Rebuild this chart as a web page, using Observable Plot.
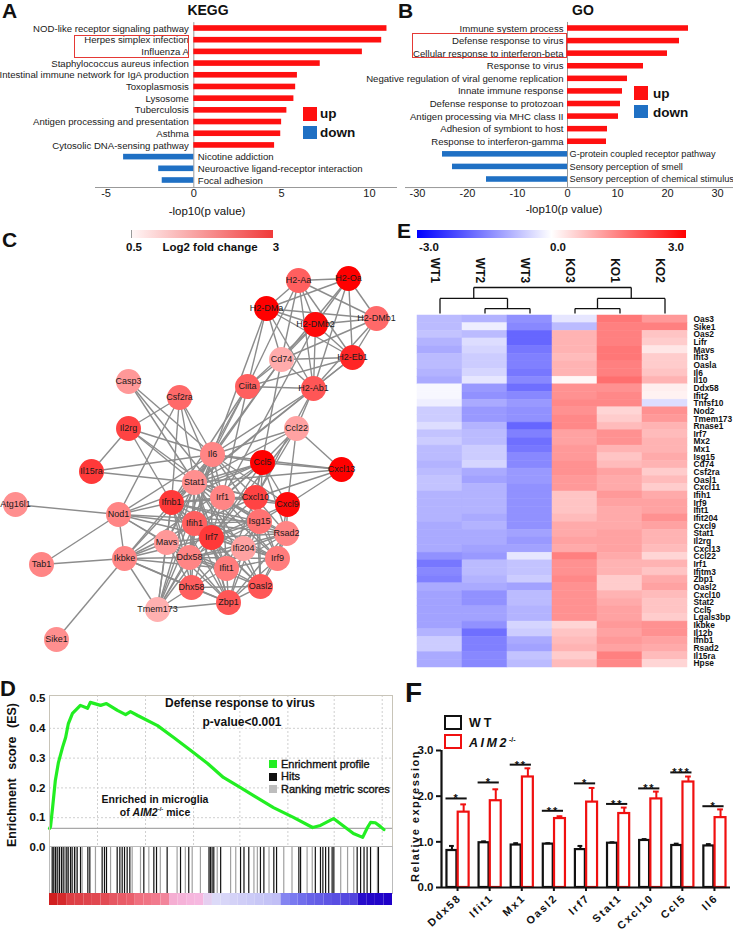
<!DOCTYPE html>
<html><head><meta charset="utf-8">
<script src="https://cdn.jsdelivr.net/npm/d3@7"></script>
<script src="https://cdn.jsdelivr.net/npm/@observablehq/plot@0.6"></script>
<style>
body{margin:0;background:#fff;}
#fig{position:relative;width:733px;height:932px;overflow:hidden;background:#fff;font-family:"Liberation Sans",Arial,sans-serif;color:#111;}
#fig svg{position:absolute;left:0;top:0;}
.t{position:absolute;line-height:1;white-space:nowrap;}
.bx{position:absolute;box-sizing:border-box;}
.panelF g[aria-label="text"] text{letter-spacing:1.8px;}
</style></head><body><div id="fig"></div>
<script>
// ---------------- DATA ----------------
const keggTerms = ["NOD-like receptor signaling pathway","Herpes simplex infection","Influenza A","Staphylococcus aureus infection","Intestinal immune network for IgA production","Toxoplasmosis","Lysosome","Tuberculosis","Antigen processing and presentation","Asthma","Cytosolic DNA-sensing pathway","Nicotine addiction","Neuroactive ligand-receptor interaction","Focal adhesion"];
const keggValues = [11.0,10.7,9.6,7.2,5.9,5.8,5.7,5.3,5.0,4.95,4.6,-4.0,-2.0,-1.8];

const goTerms = ["Immune system process","Defense response to virus","Cellular response to interferon-beta","Response to virus","Negative regulation of viral genome replication","Innate immune response","Defense response to protozoan","Antigen processing via MHC class II","Adhesion of symbiont to host","Response to interferon-gamma","G-protein coupled receptor pathway","Sensory perception of smell","Sensory perception of chemical stimulus"];
const goValues = [24.2,22.4,20.0,15.2,12.0,11.0,10.6,10.2,8.0,7.8,-25.0,-23.0,-16.2];

// network: node names, layout coordinates, log2 fold change
const netNames = ["H2-Aa","H2-Oa","H2-DMa","H2-DMb2","H2-DMb1","Cd74","H2-Eb1","Ciita","H2-Ab1","Casp3","Csf2ra","Ccl22","Il2rg","Il15ra","Il6","Ccl5","Cxcl13","Stat1","Irf1","Cxcl10","Cxcl9","Ifnb1","Atg16l1","Nod1","Ifih1","Isg15","Irf7","Rsad2","Mavs","Ifi204","Ddx58","Irf9","Ikbke","Tab1","Ifit1","Dhx58","Oasl2","Zbp1","Tmem173","Sike1"];
const netLayoutX = [298,348,266,315,376,281,352,247,313,128,179,296,128,91,212,262,341,194,222,255,287,171,15,118,194,259,211,286,166,243,189,277,124,41,226,191,260,228,157,56];
const netLayoutY = [280,278,308,324,318,359,357,386,388,381,397,428,428,471,454,462,469,482,497,497,504,502,504,514,523,521,537,533,542,548,557,558,558,564,568,587,586,602,609,639];
const netFC = [2.0,3.0,3.0,2.9,1.9,1.2,2.6,2.0,2.1,1.4,1.9,1.3,2.3,2.4,1.6,3.0,3.0,1.5,1.6,2.3,2.9,2.4,1.5,1.6,2.0,1.8,2.4,1.6,1.4,1.3,1.6,1.7,1.6,1.6,1.7,2.0,2.1,2.1,1.15,1.5];
const netLinks = [
"H2-Aa: H2-Oa H2-DMa H2-DMb2 H2-Eb1 H2-Ab1 Cd74 Ciita H2-DMb1",
"H2-Oa: H2-DMa H2-DMb2 H2-DMb1 H2-Eb1 H2-Ab1 Cd74",
"H2-DMa: H2-DMb2 H2-DMb1 Cd74 Ciita H2-Ab1 H2-Eb1 Il6",
"H2-DMb2: H2-DMb1 Cd74 H2-Eb1 H2-Ab1 Ciita Irf1",
"H2-DMb1: H2-Eb1 Cd74 H2-Ab1",
"Cd74: H2-Eb1 H2-Ab1 Ciita Il6 Stat1 Cxcl10",
"H2-Eb1: H2-Ab1 Ciita Stat1",
"Ciita: H2-Ab1 Il6 Stat1 Irf1 Ifnb1",
"H2-Ab1: Il6 Ifnb1 Cxcl10 Ccl22",
"Ccl22: Il6 Ccl5 Cxcl13 Cxcl10 Cxcl9 Stat1 Irf7",
"Casp3: Il6 Irf1 Stat1",
"Csf2ra: Il6 Stat1 Il2rg Ifnb1 Irf1 Nod1",
"Il2rg: Il15ra Il6 Stat1 Irf1 Ifnb1",
"Il15ra: Il6 Stat1",
"Atg16l1: Nod1",
"Nod1: Ifnb1 Ikbke Tab1 Ifih1 Mavs Irf7 Ddx58 Il6 Ccl5 Isg15",
"Tab1: Ikbke",
"Sike1: Ikbke",
"Ikbke: Ifnb1 Mavs Ddx58 Irf7 Tmem173 Ifih1 Dhx58 Zbp1 Stat1 Ifit1 Ccl5",
"Tmem173: Ifnb1 Irf7 Zbp1 Mavs Ddx58 Stat1 Irf1 Dhx58 Il6 Ifih1",
"Cxcl13: Ccl5 Cxcl10 Cxcl9 Il6 Stat1",
"Il6: Ccl5 Stat1 Irf1 Cxcl10 Cxcl9 Ifnb1 Ifih1 Irf7 Isg15 Mavs Ddx58",
"Ccl5: Stat1 Irf1 Cxcl10 Cxcl9 Ifnb1 Irf7 Isg15 Rsad2 Ifih1",
"Stat1: Irf1 Cxcl10 Cxcl9 Ifnb1 Ifih1 Isg15 Irf7 Rsad2 Irf9 Ifit1 Mavs Ddx58 Oasl2 Zbp1 Ifi204",
"Irf1: Cxcl10 Cxcl9 Ifnb1 Irf7 Isg15 Irf9 Ifit1",
"Cxcl10: Cxcl9 Ifnb1 Irf7 Isg15 Rsad2 Ifit1 Ifih1 Irf9 Oasl2",
"Cxcl9: Irf7 Isg15 Rsad2 Irf9",
"Ifnb1: Ifih1 Irf7 Isg15 Mavs Ddx58 Ifit1 Irf9 Dhx58 Zbp1 Rsad2",
"Ifih1: Irf7 Isg15 Mavs Ddx58 Ifit1 Dhx58 Zbp1 Oasl2 Ifi204 Rsad2 Irf9",
"Isg15: Irf7 Rsad2 Ifit1 Irf9 Oasl2 Ddx58 Ifi204 Zbp1 Dhx58",
"Irf7: Rsad2 Mavs Ddx58 Irf9 Ifit1 Dhx58 Oasl2 Zbp1 Ifi204",
"Rsad2: Ifit1 Irf9 Oasl2 Ddx58 Ifi204 Zbp1",
"Mavs: Ddx58 Dhx58 Ifit1 Zbp1",
"Ifi204: Ddx58 Irf9 Ifit1 Oasl2 Zbp1",
"Ddx58: Ifit1 Dhx58 Oasl2 Zbp1 Irf9",
"Irf9: Ifit1 Oasl2 Zbp1",
"Ifit1: Dhx58 Oasl2 Zbp1",
"Dhx58: Zbp1 Oasl2",
"Oasl2: Zbp1"];

// heatmap
const heatGenes = ["Oas3","Sike1","Oas2","Lifr","Mavs","Ifit3","Oasla","Il6","Il10","Ddx58","Ifit2","Tnfsf10","Nod2","Tmem173","Rnase1","Irf7","Mx2","Mx1","Isg15","Cd74","Csf2ra","Oasl1","Cxcl11","Ifih1","Irf9","Ifit1","Ifit204","Cxcl9","Stat1","Il2rg","Cxcl13","Ccl22","Irf1","Ifitm3","Zbp1","Oasl2","Cxcl10","Stat2","Ccl5","Lgals3bp","Ikbke","Il12b","Ifnb1","Rsad2","Il15ra","Hpse"];
const heatSamples = ["WT1","WT2","WT3","KO3","KO1","KO2"];
const heatWT1 = [-0.8,-0.8,-0.7,-0.9,-1.0,-0.8,-0.8,-0.9,-1.0,-0.1,-0.1,-0.2,-0.6,-0.6,-0.4,-0.7,-0.6,-0.8,-0.8,-0.9,-0.8,-0.7,-0.7,-0.9,-0.9,-0.9,-0.9,-1.0,-1.0,-1.0,-1.0,-1.3,-1.6,-1.4,-1.5,-1.0,-1.1,-1.1,-1.1,-1.1,-1.1,-0.9,-0.6,-0.6,-1.0,-1.0];
const heatWT2 = [-0.9,-0.2,-0.8,-0.4,-0.5,-0.6,-0.6,-0.5,-0.3,-1.2,-1.3,-1.0,-1.2,-1.2,-0.9,-0.8,-0.8,-0.6,-0.6,-0.5,-1.0,-1.1,-0.9,-0.9,-0.9,-0.9,-1.0,-0.9,-1.0,-1.0,-1.1,-1.2,-0.8,-0.8,-0.9,-1.0,-1.3,-1.3,-1.1,-1.1,-1.3,-1.7,-1.5,-1.5,-1.4,-1.4];
const heatWT3 = [-1.3,-1.4,-1.8,-1.8,-1.6,-1.5,-1.5,-1.6,-1.4,-1.7,-1.4,-1.2,-1.3,-1.3,-1.8,-1.5,-1.7,-1.6,-1.4,-1.4,-1.2,-1.2,-1.3,-1.3,-1.3,-1.3,-1.3,-1.3,-1.1,-1.2,-1.1,-0.3,-0.7,-0.7,-0.6,-1.1,-0.8,-0.8,-0.9,-0.9,-0.5,-0.6,-1.0,-1.1,-0.7,-0.8];
const heatKO3 = [-0.3,-0.8,0.9,0.9,0.9,0.8,0.9,0.9,0.1,1.3,1.3,1.4,1.3,1.4,1.4,1.1,1.1,1.2,1.2,1.3,1.3,1.2,1.2,0.7,0.7,0.7,0.8,1.0,1.0,1.1,1.0,1.5,1.3,1.3,1.4,1.3,1.3,1.3,1.3,1.3,0.5,0.7,0.8,0.9,0.6,0.8];
const heatKO1 = [1.6,1.5,1.5,1.5,1.6,1.6,1.5,1.5,1.7,1.3,1.4,1.4,0.5,0.6,0.8,1.3,1.3,0.9,0.7,0.8,1.1,1.0,1.0,1.2,1.1,1.0,1.0,1.0,1.1,1.1,1.1,1.0,0.9,0.9,0.6,0.6,0.9,1.0,1.1,1.1,1.2,1.1,1.2,1.1,1.5,1.4];
const heatKO2 = [1.2,1.5,0.7,0.6,0.3,0.6,0.6,0.7,0.9,0.2,0.15,-0.4,1.3,1.2,0.9,0.8,0.9,0.9,1.0,0.9,0.6,0.8,0.6,1.0,1.1,1.1,1.3,1.1,0.9,0.9,0.8,0.5,0.9,0.7,1.0,1.1,0.8,0.7,0.7,0.6,1.3,1.3,1.1,1.0,0.8,0.5];
// dendrogram merge heights (relative)
const dendroTree = {h:1.0, c:[{h:0.58, c:["WT1",{h:0.19, c:["WT2","WT3"]}]}, {h:0.58, c:[{h:0.19, c:["KO3","KO1"]},"KO2"]}]};

// GSEA
const esRank  = [0,0.3,0.9,1.7,2.6,3.8,4.7,5.5,6.7,9.0,11.1,11.9,14.9,16.6,19.8,22.2,23.6,25.7,31.5,36.2,41.1,46.1,50.7,55.7,59.5,65.3,71.1,76.7,79.0,82.8,88.6,91.3,92.7,93.6,95.0,96.5,97.5];
const esScore = [0.064,0.07,0.134,0.225,0.285,0.336,0.369,0.416,0.45,0.477,0.467,0.487,0.477,0.483,0.46,0.446,0.456,0.443,0.409,0.369,0.326,0.282,0.235,0.201,0.174,0.134,0.101,0.067,0.074,0.097,0.047,0.034,0.067,0.084,0.083,0.07,0.06];
const hitsBlack = [0.78,1.26,1.75,2.24,2.92,3.5,4.18,4.86,5.45,6.12,6.6,7.29,8.07,9.04,11.18,11.76,15.35,16.03,16.62,19.73,20.51,21.19,21.87,22.64,23.42,27.5,30.42,31.2,34.3,38.2,40.6,46.5,46.9,47.4,47.9,49.9,55.7,56.7,58.1,61.5,62.5,65.4,66.2,72.7,73.2,77.5,79.0,79.7,80.5,81.4,82.4,82.9,89.7,90.7,91.7,92.6,93.6,95.9];
const hitsGray = [1.07,2.53,3.79,5.16,7.68,9.52,13.4,17.8,24.1,26.53,28.96,32.3,37.2,39.6,41.6,44.0,48.9,52.8,54.3,59.6,60.6,64.0,68.3,70.7,75.1,76.6,84.9,86.9,88.7,95.6];
const rankMetric = [0.98,0.92,0.8,0.78,0.76,0.74,0.72,0.65,0.62,0.6,0.5,0.48,0.45,0.4,0.2,0.18,0.16,0.15,0.05,0.0,-0.02,-0.04,-0.06,-0.08,-0.1,-0.12,-0.14,-0.45,-0.5,-0.55,-0.6,-0.62,-0.65,-0.68,-0.7,-0.72,-0.95,-0.97,-0.98,-1.0];

// qPCR
const qpcrGenes = ["Ddx58","Ifit1","Mx1","Oasl2","Irf7","Stat1","Cxcl10","Ccl5","Il6"];
const qpcrWT = [0.81,0.98,0.93,0.95,0.83,0.97,1.03,0.92,0.91];
const qpcrWTerr = [0.10,0.03,0.04,0.02,0.08,0.02,0.03,0.04,0.04];
const qpcrKO = [1.65,1.90,2.42,1.51,1.87,1.62,1.94,2.31,1.53];
const qpcrKOerr = [0.17,0.25,0.19,0.05,0.31,0.13,0.16,0.12,0.18];
const qpcrSigY = [1.95,2.30,2.69,1.68,2.28,1.83,2.17,2.52,1.78];
const qpcrStars = ["*","*","**","**","*","**","**","***","*"];

// ---------------- RENDER ----------------
const fig = document.getElementById("fig");
const FONT = '"Liberation Sans", Arial, sans-serif';
const RED = "#ff1010", BLUE = "#1f70c4";
const base = {width:733, height:932, style:{background:"none", overflow:"visible", fontFamily:FONT}};
function add(svg, cls){ if(cls) svg.classList.add(cls); fig.appendChild(svg); }
function T(html, x, y, o={}){
  const s=o.size||11, d=document.createElement("div"); d.className="t"; d.innerHTML=html;
  d.style.fontSize=s+"px"; d.style.fontWeight=o.weight||"normal";
  if(o.rotate){ d.style.left=x+"px"; d.style.top=y+"px"; d.style.transform=`translate(-50%,-50%) rotate(${o.rotate}deg)`; }
  else { d.style.left=x+"px"; d.style.top=(y-0.85*s)+"px";
    const tx=o.anchor==="middle"?"-50%":o.anchor==="end"?"-100%":"0"; d.style.transform=`translateX(${tx})`; }
  if(o.css) d.style.cssText += o.css;
  fig.appendChild(d);
}
function B(x,y,w,h,css){ const d=document.createElement("div"); d.className="bx";
  d.style.cssText=`left:${x}px;top:${y}px;width:${w}px;height:${h}px;`+css; fig.appendChild(d); }

// ---- Panel A ----
const kegg = keggTerms.map((term,i)=>({term, value:keggValues[i], i}));
add(Plot.plot({...base, marginLeft:95, marginRight:336, marginTop:22, marginBottom:745,
  x:{domain:[-5.6,11.6], axis:null}, y:{domain:[0,13], range:[28,180], axis:null},
  color:{domain:["up","down"], range:[RED,BLUE]},
  marks:[
    Plot.ruleX([0],{y1:-0.5,y2:13.6,stroke:"#999"}),
    Plot.ruleY([13.6],{x1:-5.6,x2:11.6,stroke:"#999"}),
    Plot.rect(kegg,{x1:0,x2:"value",y1:d=>d.i-0.24,y2:d=>d.i+0.24,fill:d=>d.value>0?"up":"down"}),
    Plot.text(kegg.filter(d=>d.value>0),{x:0,y:"i",text:"term",textAnchor:"end",dx:-5,fontSize:9.6,fill:"#1a1a1a"}),
    Plot.text(kegg.filter(d=>d.value<0),{x:0,y:"i",text:"term",textAnchor:"start",dx:4,fontSize:9.6,fill:"#1a1a1a"}),
    Plot.text([-5,0,5,10],{x:d=>d,frameAnchor:"bottom",dy:9,text:d=>String(d),fontSize:11,fill:"#1a1a1a"})
  ]}));

// ---- Panel B ----
const go = goTerms.map((term,i)=>({term, value:goValues[i], i}));
add(Plot.plot({...base, marginLeft:405, marginRight:0, marginTop:22, marginBottom:745,
  x:{domain:[-32.4,33.2], axis:null}, y:{domain:[0,12], range:[28,179], axis:null},
  color:{domain:["up","down"], range:[RED,BLUE]},
  marks:[
    Plot.ruleX([0],{y1:-0.48,y2:12.64,stroke:"#999"}),
    Plot.ruleY([12.64],{x1:-32.4,x2:33.2,stroke:"#999"}),
    Plot.rect(go,{x1:0,x2:"value",y1:d=>d.i-0.22,y2:d=>d.i+0.22,fill:d=>d.value>0?"up":"down"}),
    Plot.text(go.filter(d=>d.value>0),{x:0,y:"i",text:"term",textAnchor:"end",dx:-4,fontSize:9.6,fill:"#1a1a1a"}),
    Plot.text(go.filter(d=>d.value<0),{x:0,y:"i",text:"term",textAnchor:"start",dx:2,fontSize:9.2,fill:"#1a1a1a"}),
    Plot.text([-30,-20,-10,0,10,20,30],{x:d=>d,frameAnchor:"bottom",dy:9,text:d=>String(d),fontSize:11,fill:"#1a1a1a"})
  ]}));

// ---- Panel C (network) ----
const nodes = netNames.map((name,i)=>({name, x:netLayoutX[i], y:netLayoutY[i], fc:netFC[i]}));
const byName = new Map(nodes.map(n=>[n.name,n]));
const edges = [];
netLinks.forEach(s=>{ const [a,rest]=s.split(": "); rest.split(" ").forEach(b=>edges.push({a:byName.get(a), b:byName.get(b)})); });
add(Plot.plot({...base, margin:0,
  x:{domain:[0,733], range:[0,733], axis:null}, y:{domain:[0,932], range:[0,932], axis:null},
  color:{type:"linear", domain:[0.5,3], range:["#ffeeee","#ff0000"]},
  marks:[
    Plot.link(edges,{x1:d=>d.a.x,y1:d=>d.a.y,x2:d=>d.b.x,y2:d=>d.b.y,stroke:"#8c8c8c",strokeWidth:1.4}),
    Plot.dot(nodes,{x:"x",y:"y",r:12.5,fill:"fc"}),
    Plot.text(nodes,{x:"x",y:"y",text:"name",fontSize:9,fill:"#1a1a1a"})
  ]}));

// ---- Panel E (heatmap) ----
const heatCols = [heatWT1,heatWT2,heatWT3,heatKO3,heatKO1,heatKO2];
const heat = [];
heatGenes.forEach((g,gi)=>heatSamples.forEach((s,si)=>heat.push({gene:g, sample:s, value:heatCols[si][gi]})));
add(Plot.plot({...base, marginLeft:417, marginRight:46, marginTop:315, marginBottom:265,
  x:{type:"band", domain:heatSamples, padding:0, axis:null},
  y:{type:"band", domain:heatGenes, padding:0, axis:null},
  color:{type:"linear", domain:[-3,0,3], range:["#0000ff","#ffffff","#ff0000"]},
  marks:[
    Plot.cell(heat,{x:"sample",y:"gene",fill:"value",stroke:"value",strokeWidth:0.5}),
    Plot.text(heatGenes,{y:d=>d,frameAnchor:"right",dx:6,textAnchor:"start",fontSize:8.4,fontWeight:"bold",fill:"#111"}),
    Plot.text(heatSamples,{x:d=>d,frameAnchor:"top",dy:-45,rotate:90,fontSize:12,fontWeight:"bold",fill:"#111"})
  ]}));
// dendrogram
const segs = [];
function walk(n){
  if(typeof n==="string") return {x:heatSamples.indexOf(n), h:0};
  const kids = n.c.map(walk);
  kids.forEach(k=>segs.push({x1:k.x,y1:k.h,x2:k.x,y2:n.h}));
  segs.push({x1:kids[0].x,y1:n.h,x2:kids[1].x,y2:n.h});
  return {x:(kids[0].x+kids[1].x)/2, h:n.h};
}
walk(dendroTree);
add(Plot.plot({...base, marginLeft:417, marginRight:46, marginTop:287, marginBottom:932-313,
  x:{domain:[-0.5,5.5], axis:null}, y:{domain:[0,1], axis:null},
  marks:[Plot.link(segs,{x1:"x1",y1:"y1",x2:"x2",y2:"y2",stroke:"#111",strokeWidth:1.3})]}));

// ---- Panel D (GSEA) ----
const es = esRank.map((r,i)=>({rank:r, score:esScore[i]}));
add(Plot.plot({...base, marginLeft:49, marginRight:341, marginTop:695, marginBottom:86,
  x:{domain:[0,100], axis:null}, y:{domain:[0,0.5], range:[847,698], axis:null},
  marks:[
    Plot.ruleY([0.1,0.2,0.3,0.4],{stroke:"#cfcfcf",strokeDasharray:"2,2"}),
    Plot.ruleX([14,28,42,55.5,69.5,83,97],{stroke:"#cfcfcf",strokeDasharray:"2,2"}),
    Plot.ruleY([0.064],{stroke:"#a8a8a8",strokeWidth:1.3}),
    Plot.line(es,{x:"rank",y:"score",stroke:"#22ee22",strokeWidth:3.2}),
    Plot.frame({stroke:"#c8c4b8"}),
    Plot.text([0,0.1,0.2,0.3,0.4,0.5],{y:d=>d,frameAnchor:"left",dx:-4,textAnchor:"end",text:d=>d.toFixed(1),fontSize:11.5,fontWeight:"bold",fill:"#111"})
  ]}));
add(Plot.plot({...base, marginLeft:49, marginRight:341, marginTop:846, marginBottom:39,
  x:{domain:[0,100], axis:null},
  marks:[
    Plot.ruleX(hitsGray,{x:d=>d,stroke:"#a0a0a0",strokeWidth:1.2}),
    Plot.ruleX(hitsBlack,{x:d=>d,stroke:"#111",strokeWidth:1.2}),
    Plot.frame({stroke:"#bbb"})
  ]}));
const bins = rankMetric.map((m,k)=>({x1:k*2.5, x2:k*2.5+2.5, m}));
add(Plot.plot({...base, marginLeft:49, marginRight:341, marginTop:893, marginBottom:27,
  x:{domain:[0,100], axis:null},
  color:{type:"linear", domain:[-1,-0.5,0,0.15,0.5,1], range:["#1e00c8","#7a7af0","#dcdaf8","#f6b8e0","#f07080","#d01c1c"]},
  marks:[ Plot.barX(bins,{x1:"x1",x2:"x2",fill:"m"}) ]}));

// ---- Panel F (qPCR) ----
const F = qpcrGenes.map((gene,i)=>({gene,i,wt:qpcrWT[i],wtErr:qpcrWTerr[i],ko:qpcrKO[i],koErr:qpcrKOerr[i],sig:qpcrSigY[i],stars:qpcrStars[i]}));
add(Plot.plot({...base, marginLeft:441, marginRight:3, marginTop:750, marginBottom:45,
  x:{domain:[-0.5,8.5], axis:null}, y:{domain:[0,3], axis:null},
  marks:[
    Plot.rect(F,{x1:d=>d.i-0.33,x2:d=>d.i-0.02,y1:0,y2:"wt",fill:"white",stroke:"#111",strokeWidth:2.2}),
    Plot.rect(F,{x1:d=>d.i+0.02,x2:d=>d.i+0.36,y1:0,y2:"ko",fill:"white",stroke:"#f01010",strokeWidth:2.2}),
    Plot.ruleX(F,{x:d=>d.i-0.175,y1:"wt",y2:d=>d.wt+d.wtErr,stroke:"#111",strokeWidth:2}),
    Plot.ruleY(F,{y:d=>d.wt+d.wtErr,x1:d=>d.i-0.25,x2:d=>d.i-0.1,stroke:"#111",strokeWidth:2}),
    Plot.ruleX(F,{x:d=>d.i+0.19,y1:"ko",y2:d=>d.ko+d.koErr,stroke:"#f01010",strokeWidth:2}),
    Plot.ruleY(F,{y:d=>d.ko+d.koErr,x1:d=>d.i+0.1,x2:d=>d.i+0.28,stroke:"#f01010",strokeWidth:2}),
    Plot.ruleY(F,{y:"sig",x1:d=>d.i-0.36,x2:d=>d.i+0.3,stroke:"#111",strokeWidth:2}),
    Plot.text(F,{x:d=>d.i-0.03,y:"sig",text:"stars",lineAnchor:"bottom",dy:4,fontSize:11,fontWeight:"bold",fill:"#111"}),
    Plot.ruleX([-0.5],{y1:0,y2:3,stroke:"#111",strokeWidth:2.2}),
    Plot.ruleY([0],{x1:-0.5,x2:8.5,stroke:"#111",strokeWidth:2.2}),
    Plot.axisY({ticks:[0,1,2,3],tickSize:5,tickPadding:3,fontSize:11.5,fontWeight:"bold",strokeWidth:2,label:null}),
    Plot.axisX({ticks:d3.range(9),tickSize:4,tickFormat:()=>"",strokeWidth:2,label:null}),
    Plot.text(F,{x:"i",y:0,text:"gene",rotate:-43,textAnchor:"end",dy:9,dx:2,fontSize:10.8,fontWeight:"bold",fill:"#111"})
  ]}), "panelF");

// ---------------- TEXT / LEGENDS ----------------
T("A",2,18,{size:21,weight:"bold"});
T("KEGG",208,15,{size:14,weight:"bold",anchor:"middle"});
T("B",398,18,{size:21,weight:"bold"});
T("GO",583,15,{size:14,weight:"bold",anchor:"middle"});
T("-lop10(p value)",207,216,{size:11.5,anchor:"middle"});
T("-lop10(p value)",564,214,{size:11.5,anchor:"middle"});
B(74,35,115,23,"border:1.5px solid #e53935;");
B(412,33,155,25,"border:1.5px solid #e53935;");
B(303,107,14,14,`background:${RED};`); B(303,126,14,13,`background:${BLUE};`);
T("up",320,118,{size:13.5,weight:"bold"}); T("down",320,137,{size:13.5,weight:"bold"});
B(634,86,14,14,`background:${RED};`); B(634,105,14,13,`background:${BLUE};`);
T("up",653,98,{size:13.5,weight:"bold"}); T("down",653,117,{size:13.5,weight:"bold"});

T("C",2,247,{size:21,weight:"bold"});
B(131,230,142,8,"background:linear-gradient(to right,#fff6f6,#f03a3a);border-left:1px solid #999;");
T("0.5",134,252,{size:11.5,weight:"bold",anchor:"middle"});
T("Log2 fold change",210,252,{size:11.5,weight:"bold",anchor:"middle"});
T("3",276,252,{size:11.5,weight:"bold",anchor:"middle"});

T("E",397,238,{size:21,weight:"bold"});
B(417,230,269,8,"background:linear-gradient(to right,#0000ff,#ffffff,#ff0000);");
T("-3.0",429,252,{size:11.5,weight:"bold",anchor:"middle"});
T("0.0",558,252,{size:11.5,weight:"bold",anchor:"middle"});
T("3.0",676,252,{size:11.5,weight:"bold",anchor:"middle"});

T("D",0,697,{size:22,weight:"bold"});
T("Enrichment score (ES)",12,775,{size:12.5,weight:"bold",rotate:-90,css:"word-spacing:5px;"});
T("Defense response to virus",240,707,{size:12,weight:"bold",anchor:"middle"});
T("p-value&lt;0.001",242,726,{size:12,weight:"bold",anchor:"middle"});
B(269,760,8,8,"background:#22ee22;"); B(269,773,8,8,"background:#111;"); B(269,785,8,8,"background:#bdbdbd;");
const lg="-webkit-text-stroke:0.35px #111;";
T("Enrichment profile",281,768,{size:11,css:lg}); T("Hits",281,780,{size:11,css:lg}); T("Ranking metric scores",281,793,{size:11,css:lg});
T("Enriched in microglia",155,803,{size:10.5,weight:"bold",anchor:"middle"});
T("of <i>AIM2</i><sup style='font-size:6px'>-/-</sup> mice",155,815,{size:10.5,weight:"bold",anchor:"middle"});

T("F",405,703,{size:28,weight:"bold"});
B(444,715,18,15,"border:2.5px solid #111;"); B(444,734,18,15,"border:2.5px solid #f01010;");
T("WT",469,728,{size:12.5,weight:"bold",css:"letter-spacing:3px;"});
T("<i>AIM2</i><sup style='font-size:7px;letter-spacing:0'>-/-</sup>",469,747,{size:12.5,weight:"bold",css:"letter-spacing:2.5px;"});
T("Relative expression",415,816,{size:11,weight:"bold",rotate:-90,css:"letter-spacing:1.5px;"});
</script></body></html>
